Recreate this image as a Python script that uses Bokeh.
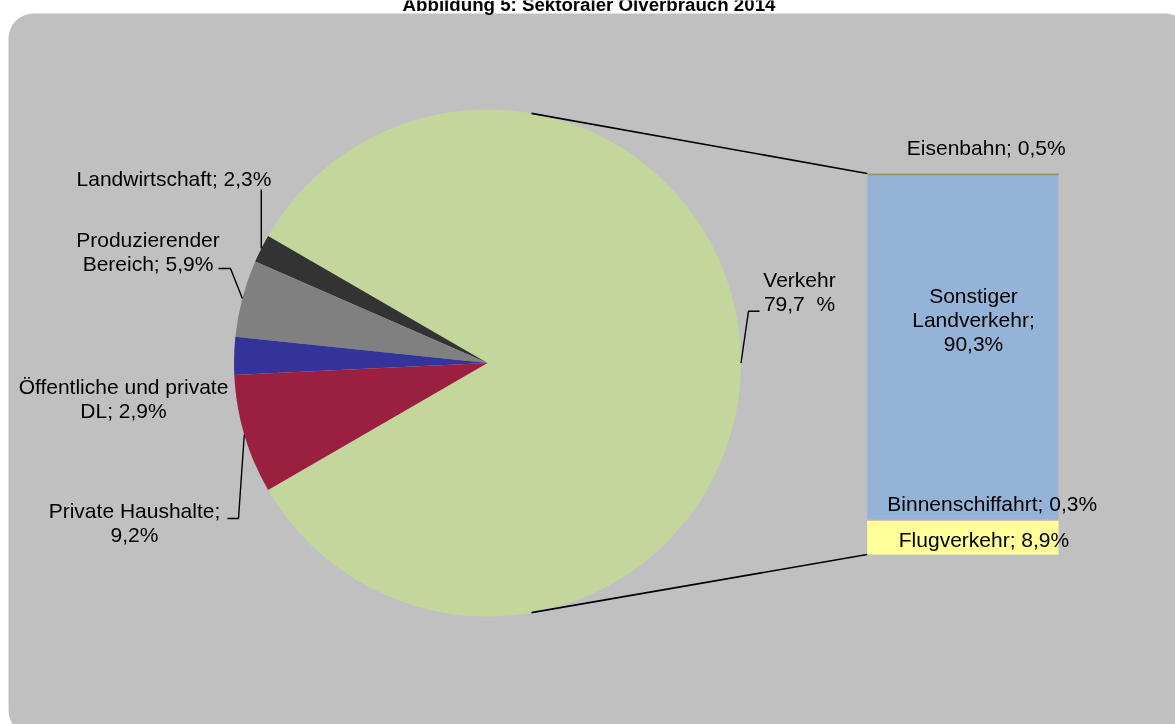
import math
from bokeh.plotting import figure
from bokeh.models import Range1d, ColumnDataSource
from bokeh.core.properties import value
from bokeh.embed import file_html
from bokeh.resources import INLINE

# ---------------- data ----------------
title_text = "Abbildung 5: Sektoraler Ölverbrauch 2014"

pie_names = ["Verkehr", "Landwirtschaft", "Produzierender\nBereich",
             "Öffentliche und private\nDL", "Private Haushalte"]
pie_pct_labels = [79.7, 2.3, 5.9, 2.9, 9.2]          # percentages printed in labels
pie_shares = [83.3, 1.8, 4.9, 2.4, 7.6]              # slice sizes as drawn
pie_colors = ["#C3D69B", "#333333", "#808080", "#333399", "#9B2040"]

bar_names = ["Flugverkehr", "Binnenschiffahrt", "Sonstiger\nLandverkehr", "Eisenbahn"]
bar_pct = [8.9, 0.3, 90.3, 0.5]                      # stacked from bottom
bar_colors = ["#FFFF99", "#E49B9B", "#95B3D7", "#9A9862"]

# ---------------- layout ----------------
W, H = 1175, 724
def Y(sy):
    return H - sy

FONT = "Liberation Sans"
LABEL_SIZE = "21px"
LINE_STEP = 24
TEXT_SHIFT = 8      # empirical correction of the text baseline (screen px, upwards)
TITLE_SHIFT = 7

PIE_CX, PIE_CY, PIE_R = 487.0, Y(362.5), 253.5
BAR_L, BAR_R, BAR_TOP, BAR_BOTTOM = 866.7, 1058.0, Y(173.0), Y(554.0)
CONNECT_ANGLE = math.radians(80)

pie_label_tpl = ["{name}\n{pct}\u00a0\u00a0%", "{name}; {pct}%", "{name}; {pct}%",
                 "{name}; {pct}%", "{name};\n{pct}%"]
pie_label_pos = [(799, 287.3), (173.5, 185.7), (147.5, 246.7), (123, 394.3), (134, 518.3)]
pie_leader_elbows = [[(759, 310.7), (748, 310.7)], "vertical", [(218, 268), (230, 268)],
                     None, [(227, 518), (238, 518)]]
LAND_LEADER_TOP = 189

bar_label_tpl = ["{name}; {pct}%", "{name}; {pct}%", "{name};\n{pct}%", "{name}; {pct}%"]
bar_label_pos = [(983.5, 546.7), (991.7, 510.7), (973, 303.3), (985.7, 155.2)]


def fmt(v):
    return f"{v:.1f}".replace(".", ",")


p = figure(width=W, height=H, x_range=Range1d(0, W), y_range=Range1d(0, H),
           output_backend="svg", toolbar_location=None,
           x_axis_type=None, y_axis_type=None,
           min_border=0, min_border_left=0, min_border_right=0,
           min_border_top=0, min_border_bottom=0,
           background_fill_color="white", border_fill_color="white",
           outline_line_color=None)
p.grid.visible = False
p.styles = {"position": "fixed", "left": "0px", "top": "0px"}

# chart area (rounded rectangle)
p.quad(left=[8], right=[1190], top=[Y(13)], bottom=[Y(735)],
       fill_color="#C0C0C0", line_color=None, border_radius=25)

# title (partly cut off at top)
p.text(x=[588.5], y=[Y(11 - TITLE_SHIFT)], text=[title_text], text_font=value(FONT),
       text_font_style="bold", text_font_size="18.7px", text_color="black",
       text_align="center", text_baseline="alphabetic")

# ---- pie ----
total = sum(pie_shares)
spans = [s / total * 2 * math.pi for s in pie_shares]
starts, ends = [], []
a = -spans[0] / 2
for sp in spans:
    starts.append(a)
    ends.append(a + sp)
    a += sp
pie_src = ColumnDataSource(dict(start=starts, end=ends, color=pie_colors))
p.wedge(x=PIE_CX, y=PIE_CY, radius=PIE_R, start_angle="start", end_angle="end",
        fill_color="color", line_color=None, source=pie_src)

# ---- bar (stacked) ----
btot = sum(bar_pct)
scale = (BAR_TOP - BAR_BOTTOM) / btot
bottoms, tops = [], []
c = BAR_BOTTOM
for v in bar_pct:
    bottoms.append(c)
    c += v * scale
    tops.append(c)
bar_src = ColumnDataSource(dict(bottom=bottoms, top=tops, color=bar_colors))
p.quad(left=BAR_L, right=BAR_R, bottom="bottom", top="top",
       fill_color="color", line_color=None, source=bar_src)

# connector lines pie -> bar
cx_top = PIE_CX + PIE_R * math.cos(CONNECT_ANGLE)
cy_top = PIE_CY + PIE_R * math.sin(CONNECT_ANGLE)
cy_bot = PIE_CY - PIE_R * math.sin(CONNECT_ANGLE)
p.segment(x0=[cx_top, cx_top], y0=[cy_top, cy_bot], x1=[BAR_L, BAR_L],
          y1=[BAR_TOP, BAR_BOTTOM], line_color="black", line_width=1.6)

# leader lines
lx, ly = [], []
for i, el in enumerate(pie_leader_elbows):
    if el is None:
        continue
    mid = (starts[i] + ends[i]) / 2
    ex = PIE_CX + PIE_R * math.cos(mid)
    ey = PIE_CY + PIE_R * math.sin(mid)
    if el == "vertical":
        pts = [(ex, Y(LAND_LEADER_TOP))]
    else:
        pts = [(x, Y(y)) for x, y in el]
    lx.append([q[0] for q in pts] + [ex])
    ly.append([q[1] for q in pts] + [ey])
p.multi_line(xs=lx, ys=ly, line_color="black", line_width=1.4)

# labels
tx, ty, tt = [], [], []
for name, pct, tpl, (x0, y0) in zip(pie_names, pie_pct_labels, pie_label_tpl, pie_label_pos):
    for k, line in enumerate(tpl.format(name=name, pct=fmt(pct)).split("\n")):
        tx.append(x0)
        ty.append(Y(y0 + k * LINE_STEP - TEXT_SHIFT))
        tt.append(line)
for name, pct, tpl, (x0, y0) in zip(bar_names, bar_pct, bar_label_tpl, bar_label_pos):
    for k, line in enumerate(tpl.format(name=name, pct=fmt(pct)).split("\n")):
        tx.append(x0)
        ty.append(Y(y0 + k * LINE_STEP - TEXT_SHIFT))
        tt.append(line)
p.text(x=tx, y=ty, text=tt, text_font=value(FONT), text_font_size=LABEL_SIZE,
       text_color="black", text_align="center", text_baseline="alphabetic")

open("out.html", "w").write(file_html(p, INLINE))
